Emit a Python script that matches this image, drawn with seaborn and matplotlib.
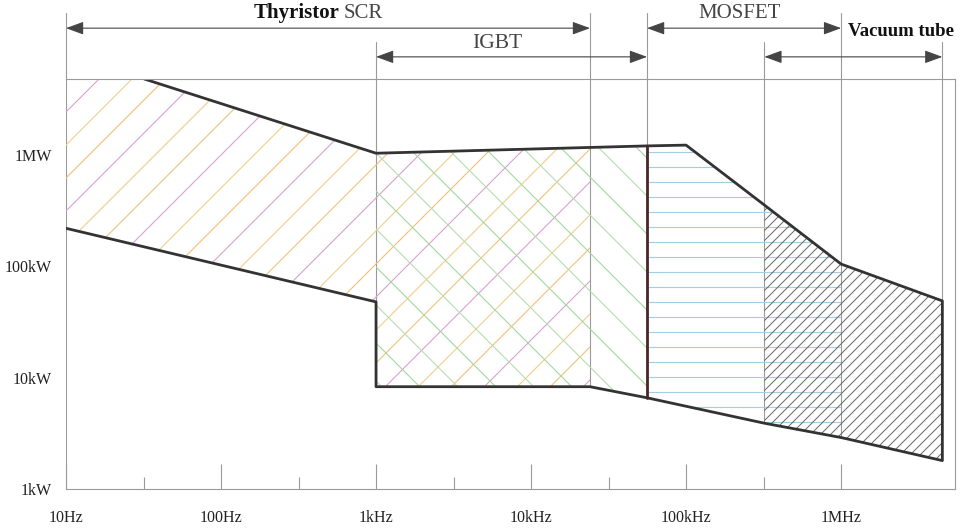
import numpy as np
import matplotlib.pyplot as plt
import matplotlib.transforms as mtransforms
from matplotlib.collections import LineCollection
from matplotlib.patches import Polygon
import seaborn as sns

# frequency in Hz, power in kW
thyristor_f = [10, 32, 1000, 24000, 24000, 1000, 1000, 10]
thyristor_p = [4830, 4830, 1040, 1175, 8.3, 8.3, 48, 220]
igbt_f = [1000, 56000, 56000, 24000, 1000]
igbt_p = [1040, 1210, 6.6, 8.3, 8.3]
mosfet_f = [56000, 100000, 320000, 1e6, 1e6, 320000, 56000]
mosfet_p = [1210, 1230, 356, 105, 2.9, 3.9, 6.6]
vacuum_f = [320000, 1e6, 4.5e6, 4.5e6, 1e6, 320000]
vacuum_p = [356, 105, 49, 1.8, 2.9, 3.9]

# outer border of the whole map
envelope_f = [32, 1000, 56000, 100000, 320000, 1e6, 4.5e6, 4.5e6, 1e6,
              320000, 56000, 24000, 1000, 1000, 10]
envelope_p = [4830, 1040, 1210, 1230, 356, 105, 49, 1.8, 2.9,
              3.9, 6.6, 8.3, 8.3, 48, 220]
mosfet_edge_f = [56000, 56000]
mosfet_edge_p = [6.6, 1210]

# frequency span of each device (arrows on top)
range_start = [10, 1000, 56000, 320000]
range_end = [24000, 56000, 1e6, 4.5e6]
range_row = [0, 1, 0, 1]

# thin guide lines: frequency, lower end (kW), arrow row
guide_f = [10, 1000, 24000, 56000, 320000, 1e6, 4.5e6]
guide_bottom = [1, 8.3, 8.3, 6.6, 3.9, 2.9, 1.8]
guide_row = [0, 1, 0, 0, 1, 0, 1]

xticks = [10, 100, 1e3, 1e4, 1e5, 1e6]
xlabels = ["10Hz", "100Hz", "1kHz", "10kHz", "100kHz", "1MHz"]
xminor = [10 ** 1.5, 10 ** 2.5, 10 ** 3.5, 10 ** 4.5, 10 ** 5.5]
yticks = [1, 10, 100, 1000]
ylabels = ["1kW", "10kW", "100kW", "1MW"]

sns.set_theme(style="white")
plt.rcParams["font.family"] = ["Liberation Serif", "DejaVu Serif"]

W_PX, H_PX = 964, 528
fig = plt.figure(figsize=(W_PX / 100, H_PX / 100), dpi=100, facecolor="white")
ax = fig.add_axes([66 / W_PX, 1 - 489 / H_PX, (955 - 66) / W_PX, (489 - 79) / H_PX])
ax.set_xscale("log")
ax.set_yscale("log")

GRID = "#9a9a9a"
EDGE = "#333333"


def hatch(f, p, kind, step, colors, lw=0.8):
    poly = Polygon(np.column_stack([f, p]), closed=True, fill=False,
                   edgecolor="none", transform=ax.transData)
    ax.add_patch(poly)
    bb = ax.get_window_extent()
    W, H = bb.width, bb.height
    segs = []
    if kind == "/":
        for c in np.arange(-H, W, step):
            segs.append([(c / W, 0), ((c + H) / W, 1)])
    elif kind == "\\":
        for c in np.arange(-H, W, step):
            segs.append([(c / W, 1), ((c + H) / W, 0)])
    else:
        for c in np.arange(step / 2, H, step):
            segs.append([(0, c / H), (1, c / H)])
    lc = LineCollection(segs, colors=colors, linewidths=lw, transform=ax.transAxes)
    lc.set_clip_path(poly)
    ax.add_collection(lc, autolim=False)


hatch(thyristor_f, thyristor_p, "/", 33, ["#f2c07c", "#d9a2d2", "#f0cf8a"])
hatch(igbt_f, igbt_p, "\\", 38, ["#a3d8a0", "#b5dfb0"])
hatch(mosfet_f, mosfet_p, "-", 15, ["#a3cde0"])
hatch(vacuum_f, vacuum_p, "/", 10, ["#666666"], lw=0.7)

# guide lines inside the plot
for f, b in zip(guide_f, guide_bottom):
    ax.plot([f, f], [b, 4830], color=GRID, lw=0.8, zorder=1)

# guide lines above the plot and range arrows
trans = mtransforms.blended_transform_factory(ax.transData, ax.transAxes)
row_arrow = [1.124, 1.054]
row_top = [1.161, 1.090]
for f, r in zip(guide_f, guide_row):
    ax.plot([f, f], [1.0, row_top[r]], color=GRID, lw=0.8,
            transform=trans, clip_on=False)
for s, e, r in zip(range_start, range_end, range_row):
    ax.annotate("", xy=(e, row_arrow[r]), xytext=(s, row_arrow[r]),
                xycoords=trans, textcoords=trans,
                arrowprops=dict(arrowstyle="<|-|>,head_length=0.6,head_width=0.22",
                                color="#444444", lw=0.8, mutation_scale=18,
                                shrinkA=0, shrinkB=0))

# thick outline
sns.lineplot(x=envelope_f, y=envelope_p, sort=False, estimator=None,
             color=EDGE, lw=2, ax=ax)
sns.lineplot(x=mosfet_edge_f, y=mosfet_edge_p, sort=False, estimator=None,
             color="#4a2626", lw=2, ax=ax)

ax.set_xlim(10, 5.43e6)
ax.set_ylim(1, 4830)

for side in ["top", "right", "bottom"]:
    ax.spines[side].set_color(GRID)
    ax.spines[side].set_linewidth(0.8)
ax.spines["left"].set_visible(False)

ax.set_xticks(xticks)
ax.set_xticklabels(xlabels)
ax.set_xticks(xminor, minor=True)
ax.set_xticklabels([], minor=True)
ax.tick_params(axis="x", which="major", direction="in", length=18, width=0.8,
               color=GRID, pad=15, labelsize=11.5, labelcolor="#222222",
               bottom=True)
ax.tick_params(axis="x", which="minor", direction="in", length=9, width=0.8,
               color=GRID, bottom=True)
ax.set_yticks(yticks)
ax.set_yticklabels(ylabels)
ax.yaxis.set_minor_locator(plt.NullLocator())
ax.tick_params(axis="y", which="major", length=0, pad=10, labelsize=11.5,
               labelcolor="#222222")

# device names
fig.text(340 / W_PX, 1 - 13 / H_PX, "Thyristor", ha="right", va="center",
         fontsize=15, fontweight="bold", color="#111111")
fig.text(344 / W_PX, 1 - 13 / H_PX, "SCR", ha="left", va="center",
         fontsize=15, color="#444444")
fig.text(497 / W_PX, 1 - 44 / H_PX, "IGBT", ha="center", va="center",
         fontsize=15.5, color="#444444")
fig.text(740 / W_PX, 1 - 13 / H_PX, "MOSFET", ha="center", va="center",
         fontsize=15, color="#444444")
fig.text(901 / W_PX, 1 - 31 / H_PX, "Vacuum tube", ha="center", va="center",
         fontsize=13.5, fontweight="bold", color="#111111")

fig.savefig("out.png", dpi=100, facecolor="white")
